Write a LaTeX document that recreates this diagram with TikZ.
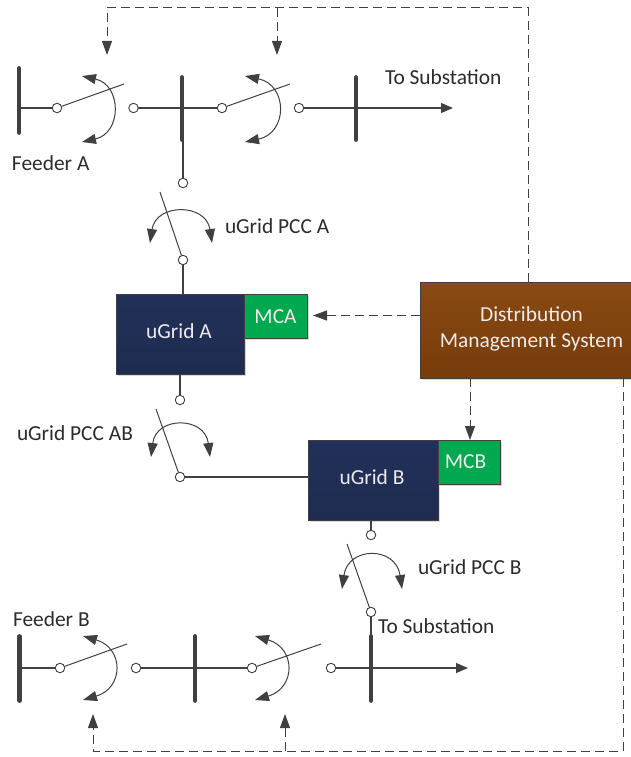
\documentclass[tikz,border=0pt]{standalone}
\usepackage{fontspec}
\setmainfont{Carlito}
\usetikzlibrary{arrows.meta,shadows,positioning}
\definecolor{ln}{HTML}{404040}
\definecolor{tx}{HTML}{2B2B2B}
\definecolor{navy}{HTML}{22305A}
\definecolor{navyb}{HTML}{1F2C50}
\definecolor{grn}{HTML}{00A84F}
\definecolor{brn}{HTML}{8A4A12}
\definecolor{brnb}{HTML}{763C0B}
\tikzset{
  x=1pt,y=-1pt,
  wire/.style={draw=ln,line width=1.1pt},
  bus/.style={draw=ln,line width=4.8pt,line cap=round},
  term/.style={circle,draw=ln,fill=white,line width=.9pt,minimum size=9.5pt,inner sep=0pt,outer sep=0pt},
  blade/.style={draw=ln,line width=1pt},
  swing/.style={draw=ln,line width=1pt,{Triangle[length=14pt,width=10pt]}-{Triangle[length=14pt,width=10pt]}},
  ctrl/.style={draw=ln,line width=1pt,dash pattern=on 9pt off 5pt},
  ctrlarrow/.style={ctrl,-{Triangle[length=14pt,width=10pt]}},
  lab/.style={text=tx,font=\fontsize{21.4}{24}\selectfont,inner sep=0pt,outer sep=0pt},
  boxlab/.style={lab,text=white!92!black},
  box/.style={rectangle,draw=ln,line width=.8pt,inner sep=0pt,outer sep=0pt,
    drop shadow={shadow xshift=2pt,shadow yshift=-2pt,opacity=.3,fill=gray}},
  gridbox/.style={box,top color=navy,bottom color=navyb,minimum height=80pt},
  mcbox/.style={box,fill=grn,minimum height=44pt},
  dmsbox/.style={box,top color=brn,bottom color=brnb,minimum width=211pt,minimum height=96pt},
}
\begin{document}
\begin{tikzpicture}
\useasboundingbox (0,0) rectangle (631,757);
% coordinates for free ends
\coordinate (b1t) at (19,68.5); \coordinate (b1b) at (19,132.5); \coordinate (b1m) at (19,108);
\coordinate (b2t) at (182,77.5); \coordinate (b2b) at (182,139.5); \coordinate (b2m) at (182,108);
\coordinate (b3t) at (356,77.5); \coordinate (b3b) at (356,139.5); \coordinate (b3m) at (356,108);
\coordinate (toA) at (453,108);
\coordinate (b4t) at (19.5,636.5); \coordinate (b4b) at (19.5,700.5); \coordinate (b4m) at (19.5,668);
\coordinate (b5t) at (195,636.5); \coordinate (b5b) at (195,700.5); \coordinate (b5m) at (195,668);
\coordinate (b6t) at (371,636.5); \coordinate (b6b) at (371,700.5); \coordinate (b6m) at (371,668);
\coordinate (toB) at (468,668);
% boxes
\node[gridbox,minimum width=128pt] (ga) at (180,334) {};
\node[mcbox,minimum width=63pt] (mca) at (275.5,316) {};
\node[gridbox,minimum width=130pt] (gb) at (373,480) {};
\node[mcbox,minimum width=62pt] (mcb) at (469,462) {};
\node[dmsbox] (dms) at (525.5,330) {};
\node[boxlab] (ta) at (179,331) {uGrid A};
\node[boxlab] (tm) at (275.5,316.5) {MCA};
\node[boxlab] (tb) at (372,477) {uGrid B};
\node[boxlab] (tn) at (465.5,462) {MCB};
\node[boxlab,align=center,font=\fontsize{21.4}{26}\selectfont] (td) at (531.5,329) {Distribution\\Management System};
% terminals
\node[term] (t1) at (57,108) {}; \node[term] (t2) at (133.5,108) {};
\node[term] (t3) at (222,108) {}; \node[term] (t4) at (299,108) {};
\node[term] (t5) at (183,183) {}; \node[term] (t6) at (183,260) {};
\node[term] (t7) at (180,400) {}; \node[term] (t8) at (180,477) {};
\node[term] (t9) at (371,535) {}; \node[term] (t10) at (371,612) {};
\node[term] (t11) at (60,668) {}; \node[term] (t12) at (136,668) {};
\node[term] (t13) at (252,668) {}; \node[term] (t14) at (331,668) {};
% buses
\draw[bus] (b1t) -- (b1b); \draw[bus] (b2t) -- (b2b); \draw[bus] (b3t) -- (b3b);
\draw[bus] (b4t) -- (b4b); \draw[bus] (b5t) -- (b5b); \draw[bus] (b6t) -- (b6b);
% wires
\draw[wire] (b1m) -- (t1);
\draw[wire] (t2) -- (t3);
\draw[wire,-{Triangle[length=12pt,width=10pt]}] (t4) -- (toA);
\draw[wire] (t5 |- b2b) -- (t5);
\draw[wire] (t6) -- (t6 |- ga.north);
\draw[wire] (t7 |- ga.south) -- (t7);
\draw[wire] (t8) -- (gb.west |- t8);
\draw[wire] (t9 |- gb.south) -- (t9);
\draw[wire] (t10) -- (t10 |- b6t);
\draw[wire] (b4m) -- (t11);
\draw[wire] (t12) -- (t13);
\draw[wire,-{Triangle[length=12pt,width=10pt]}] (t14) -- (toB);
% blades
\coordinate (e1) at (124,84); \coordinate (e2) at (290,84);
\coordinate (e3) at (160,192); \coordinate (e4) at (156,409);
\coordinate (e5) at (347,544); \coordinate (e6) at (127,644); \coordinate (e7) at (321,644);
\draw[blade] (t1) -- (e1); \draw[blade] (t3) -- (e2);
\draw[blade] (t6) -- (e3); \draw[blade] (t8) -- (e4); \draw[blade] (t10) -- (e5);
\draw[blade] (t11) -- (e6); \draw[blade] (t13) -- (e7);
% swing arrows
\coordinate (a1) at (82,76); \coordinate (a1b) at (82,142);
\draw[swing] (a1) .. controls (122,85) and (122,133) .. (a1b);
\coordinate (a2) at (245,76); \coordinate (a2b) at (245,142);
\draw[swing] (a2) .. controls (288,85) and (288,133) .. (a2b);
\coordinate (a3) at (150,243); \coordinate (a3b) at (212,243);
\draw[swing] (a3) .. controls (156,203) and (206,203) .. (a3b);
\coordinate (a4) at (151,457); \coordinate (a4b) at (210,457);
\draw[swing] (a4) .. controls (156,416) and (205,416) .. (a4b);
\coordinate (a5) at (342,589); \coordinate (a5b) at (402,589);
\draw[swing] (a5) .. controls (348,546) and (396,546) .. (a5b);
\coordinate (a6) at (83,636); \coordinate (a6b) at (83,700);
\draw[swing] (a6) .. controls (124,648) and (124,688) .. (a6b);
\coordinate (a7) at (255,636); \coordinate (a7b) at (255,700);
\draw[swing] (a7) .. controls (296,648) and (296,688) .. (a7b);
% control lines
\coordinate (c1) at (107,8); \coordinate (c2) at (107,55); \coordinate (c3) at (277,8);
\coordinate (c4) at (277,55); \coordinate (c5) at (528,8);
\coordinate (c6) at (93,751); \coordinate (c7) at (93,714); \coordinate (c8) at (285,751);
\coordinate (c9) at (285,714); \coordinate (c10) at (623,751);
\coordinate (c11) at (313,315.5); \coordinate (c12) at (470,440);
\draw[ctrlarrow] (c5 |- dms.north) -- (c5) -- (c1) -- (c2);
\draw[ctrlarrow] (c3) -- (c4);
\draw[ctrlarrow] (dms.west |- c11) -- (c11);
\draw[ctrlarrow] (c12 |- dms.south) -- (c12);
\draw[ctrlarrow] (c10 |- dms.south) -- (c10) -- (c6) -- (c7);
\draw[ctrlarrow] (c8) -- (c9);
% labels
\node[lab,anchor=west] (l1) at (385,77) {To Substation};
\node[lab,anchor=west] (l2) at (12,163) {Feeder A};
\node[lab,anchor=west] (l3) at (225,226) {uGrid PCC A};
\node[lab,anchor=west] (l4) at (17,433) {uGrid PCC AB};
\node[lab,anchor=west] (l5) at (418,567) {uGrid PCC B};
\node[lab,anchor=west] (l6) at (378,626) {To Substation};
\node[lab,anchor=west] (l7) at (13,619) {Feeder B};
\end{tikzpicture}
\end{document}
